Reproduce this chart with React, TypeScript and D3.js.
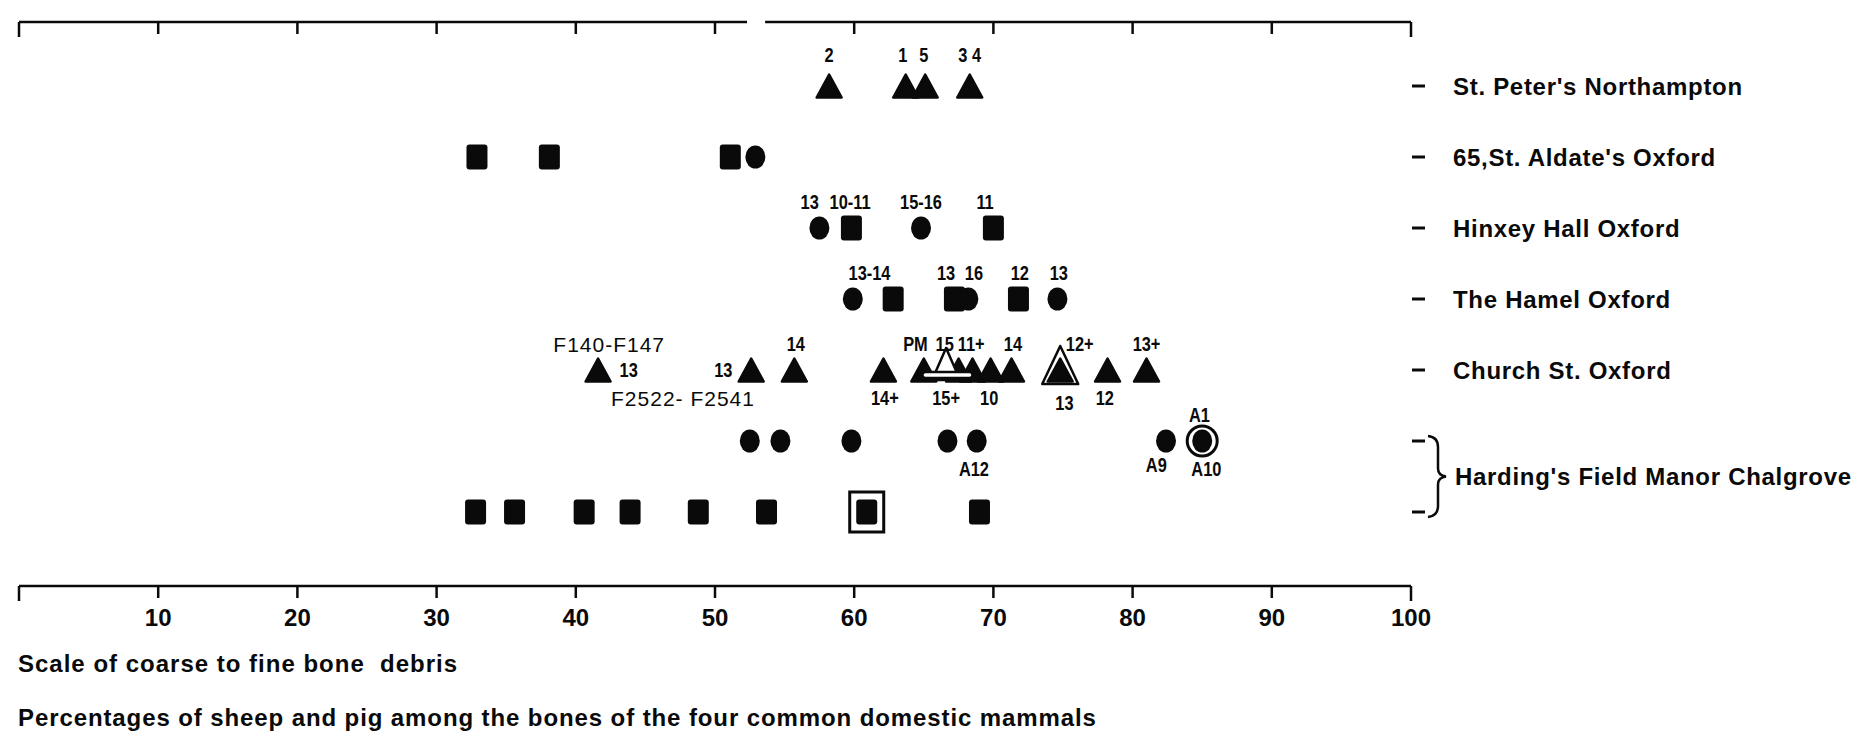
import React from "react";
import * as d3 from "d3";

const W = 1860;
const H = 739;

// axis ticks
const xTickValues = [0, 10, 20, 30, 40, 50, 60, 70, 80, 90, 100];
const xTickLabels = ["", "10", "20", "30", "40", "50", "60", "70", "80", "90", "100"];
const topAxisGap = [52.3, 53.6];

// rows
const rowKeys = ["peter", "aldate", "hinxey", "hamel", "church", "hardingC", "hardingS"];
const siteNames = [
  "St. Peter's Northampton",
  "65,St. Aldate's Oxford",
  "Hinxey Hall Oxford",
  "The Hamel Oxford",
  "Church St. Oxford",
];
const hardingName = "Harding's Field Manor Chalgrove";

// values
const stPeterTriangles = [58.2, 63.7, 65.1, 68.3];
const aldateSquares = [32.9, 38.1, 51.1];
const aldateCircles = [52.9];
const hinxeyCircles = [57.5, 64.8];
const hinxeySquares = [59.8, 70.0];
const hamelCircles = [59.9, 68.2, 74.6];
const hamelSquares = [62.8, 67.2, 71.8];
const churchTriangles = [41.6, 52.6, 55.7, 62.1, 65.0, 67.5, 68.5, 69.8, 71.3, 74.8, 78.2, 81.0];
const churchOpenTriangle = [66.6];
const churchRingedTriangle = [74.8];
const churchGroupSpan = [64.9, 68.5];
const hardingCircles = [52.5, 54.7, 59.8, 66.7, 68.8, 82.4, 85.0];
const hardingRinged = [85.0];
const hardingSquares = [32.8, 35.6, 40.6, 43.9, 48.8, 53.7, 60.9, 69.0];
const hardingBoxed = [60.9];

// labels: [text, value, placement]
type Lab = [string, number, string];
const peterLabels: Lab[] = [["2", 58.2, "above"], ["1", 63.5, "above"], ["5", 65.0, "above"], ["3 4", 68.3, "above"]];
const hinxeyLabels: Lab[] = [["13", 56.8, "above"], ["10-11", 59.7, "above"], ["15-16", 64.8, "above"], ["11", 69.4, "above"]];
const hamelLabels: Lab[] = [["13-14", 61.1, "above"], ["13", 66.6, "above"], ["16", 68.6, "above"], ["12", 71.9, "above"], ["13", 74.7, "above"]];
const churchLabels: Lab[] = [
  ["F140-F147", 42.4, "above"], ["13", 43.8, "mid"], ["F2522- F2541", 47.7, "below"],
  ["13", 50.6, "mid"], ["14", 55.8, "above"], ["14+", 62.2, "below"],
  ["PM", 64.4, "above"], ["15", 66.5, "above"], ["15+", 66.6, "below"],
  ["11+", 68.4, "above"], ["10", 69.7, "below"], ["14", 71.4, "above"],
  ["12+", 76.2, "above"], ["13", 75.1, "below2"], ["12", 78.0, "below"], ["13+", 81.0, "above"],
];
const hardingCircleLabels: Lab[] = [["A1", 84.8, "above"], ["A12", 68.6, "below"], ["A9", 81.7, "belowA9"], ["A10", 85.3, "below"]];

const x = d3.scaleLinear().domain([0, 100]).range([19, 1411]);
const y = d3.scalePoint<string>().domain(rowKeys).range([86, 512]);

const FONT = "'Liberation Sans', Arial, Helvetica, sans-serif";
const INK = "#0a0a0a";

const triPath = (w: number, h: number) => {
  const p = d3.path();
  p.moveTo(0, -h / 2);
  p.lineTo(w / 2, h / 2);
  p.lineTo(-w / 2, h / 2);
  p.closePath();
  return p.toString();
};

function Square({ v, row }: { v: number; row: string }) {
  return <rect x={x(v) - 10.5} y={(y(row) as number) - 12.5} width={21} height={25} rx={3} fill={INK} />;
}
function Circle({ v, row }: { v: number; row: string }) {
  return <ellipse cx={x(v)} cy={y(row) as number} rx={10} ry={11.5} fill={INK} />;
}
function Tri({ v, row }: { v: number; row: string }) {
  return (
    <path
      d={triPath(25, 23)}
      transform={`translate(${x(v)},${y(row)})`}
      fill={INK}
      stroke={INK}
      strokeWidth={2.5}
      strokeLinejoin="round"
    />
  );
}

const dyFor: Record<string, number> = { above: -31, mid: 0, below: 28, below2: 33, belowA9: 24 };

function Labels({ labs, row, dyAbove }: { labs: Lab[]; row: string; dyAbove?: number }) {
  return (
    <g>
      {labs.map(([t, v, pos], i) => {
        const dy = pos === "above" && dyAbove !== undefined ? dyAbove : dyFor[pos];
        const px = x(v);
        const py = (y(row) as number) + dy;
        const isF = t.startsWith("F");
        return isF ? (
          <text key={i} x={px} y={py} textAnchor="middle" dominantBaseline="central"
            fontFamily={FONT} fontSize={21} letterSpacing={1} fill={INK}>{t}</text>
        ) : (
          <text key={i} transform={`translate(${px},${py}) scale(0.78,1)`} textAnchor="middle"
            dominantBaseline="central" fontFamily={FONT} fontSize={21} fontWeight={700} fill={INK}>{t}</text>
        );
      })}
    </g>
  );
}

export default function App() {
  const yTop = 22;
  const yBot = 586;
  const rightDashX = 1412;
  const labelX = 1453;
  const hy1 = y("hardingC") as number;
  const hy2 = y("hardingS") as number;
  const hMid = (hy1 + hy2) / 2;
  const bx = 1438;

  const bracket = d3.path();
  bracket.moveTo(bx - 10, hy1 - 5);
  bracket.quadraticCurveTo(bx, hy1 - 4, bx, hy1 + 6);
  bracket.lineTo(bx, hMid - 8);
  bracket.quadraticCurveTo(bx, hMid - 1, bx + 8, hMid);
  bracket.quadraticCurveTo(bx, hMid + 1, bx, hMid + 8);
  bracket.lineTo(bx, hy2 - 6);
  bracket.quadraticCurveTo(bx, hy2 + 4, bx - 10, hy2 + 5);

  const cy = y("church") as number;

  return (
    <svg width={W} height={H} style={{ position: "absolute", left: 0, top: 0, background: "#fff" }}>
      <rect x={0} y={0} width={W} height={H} fill="#fff" />
      {/* top axis */}
      <g stroke={INK} strokeWidth={2.5} fill="none">
        <line x1={x(0)} x2={x(topAxisGap[0])} y1={yTop} y2={yTop} />
        <line x1={x(topAxisGap[1])} x2={x(100)} y1={yTop} y2={yTop} />
        {xTickValues.map((t) => (
          <line key={t} x1={x(t)} x2={x(t)} y1={yTop} y2={yTop + (t === 0 || t === 100 ? 15 : 12)} />
        ))}
      </g>
      {/* bottom axis */}
      <g stroke={INK} strokeWidth={2.5} fill="none">
        <line x1={x(0)} x2={x(100)} y1={yBot} y2={yBot} />
        {xTickValues.map((t) => (
          <line key={t} x1={x(t)} x2={x(t)} y1={yBot} y2={yBot + (t === 0 || t === 100 ? 15 : 12)} />
        ))}
      </g>
      {xTickValues.map((t, i) => (
        <text key={t} x={x(t)} y={617} textAnchor="middle" dominantBaseline="central"
          fontFamily={FONT} fontSize={24} fontWeight={700} fill={INK}>{xTickLabels[i]}</text>
      ))}
      <text x={18} y={672} fontFamily={FONT} fontSize={24} fontWeight={700} letterSpacing={1} fill={INK}
        style={{ whiteSpace: "pre" }}>{"Scale of coarse to fine bone  debris"}</text>
      <text x={18} y={726} fontFamily={FONT} fontSize={24} fontWeight={700} letterSpacing={0.9} fill={INK}>
        Percentages of sheep and pig among the bones of the four common domestic mammals
      </text>

      {/* right labels */}
      {siteNames.map((n, i) => (
        <g key={n}>
          <line x1={rightDashX} x2={rightDashX + 13} y1={y(rowKeys[i]) as number} y2={y(rowKeys[i]) as number}
            stroke={INK} strokeWidth={3} />
          <text x={labelX} y={y(rowKeys[i]) as number} dominantBaseline="central" fontFamily={FONT}
            fontSize={24} fontWeight={700} letterSpacing={0.7} fill={INK}>{n}</text>
        </g>
      ))}
      <line x1={rightDashX} x2={rightDashX + 13} y1={hy1} y2={hy1} stroke={INK} strokeWidth={3} />
      <line x1={rightDashX} x2={rightDashX + 13} y1={hy2} y2={hy2} stroke={INK} strokeWidth={3} />
      <path d={bracket.toString()} fill="none" stroke={INK} strokeWidth={2.5} />
      <text x={labelX + 2} y={hMid} dominantBaseline="central" fontFamily={FONT}
        fontSize={24} fontWeight={700} letterSpacing={0.7} fill={INK}>{hardingName}</text>

      {/* St Peter's */}
      {stPeterTriangles.map((v, i) => <Tri key={i} v={v} row="peter" />)}
      <Labels labs={peterLabels} row="peter" />

      {/* Aldate's */}
      {aldateSquares.map((v, i) => <Square key={i} v={v} row="aldate" />)}
      {aldateCircles.map((v, i) => <Circle key={i} v={v} row="aldate" />)}

      {/* Hinxey */}
      {hinxeyCircles.map((v, i) => <Circle key={i} v={v} row="hinxey" />)}
      {hinxeySquares.map((v, i) => <Square key={i} v={v} row="hinxey" />)}
      <Labels labs={hinxeyLabels} row="hinxey" dyAbove={-26} />

      {/* Hamel */}
      {hamelSquares.map((v, i) => <Square key={i} v={v} row="hamel" />)}
      {hamelCircles.map((v, i) => <Circle key={i} v={v} row="hamel" />)}
      <Labels labs={hamelLabels} row="hamel" dyAbove={-26} />

      {/* Church St */}
      {churchRingedTriangle.map((v, i) => (
        <path key={"r" + i} d={triPath(36, 38)} transform={`translate(${x(v)},${cy - 5})`}
          fill="#fff" stroke={INK} strokeWidth={2.5} strokeLinejoin="round" />
      ))}
      {churchTriangles.map((v, i) => <Tri key={i} v={v} row="church" />)}
      {churchOpenTriangle.map((v, i) => (
        <path key={"o" + i} d={triPath(28, 32)} transform={`translate(${x(v)},${cy - 6})`}
          fill="#fff" stroke={INK} strokeWidth={2.5} strokeLinejoin="round" />
      ))}
      <rect x={x(churchGroupSpan[0])} y={cy + 2} width={x(churchGroupSpan[1]) - x(churchGroupSpan[0])} height={6}
        rx={3} fill="#fff" stroke={INK} strokeWidth={2.5} />
      <Labels labs={churchLabels} row="church" dyAbove={-26} />

      {/* Harding's circles */}
      {hardingCircles.map((v, i) => <Circle key={i} v={v} row="hardingC" />)}
      {hardingRinged.map((v, i) => (
        <circle key={i} cx={x(v)} cy={hy1} r={15} fill="none" stroke={INK} strokeWidth={3} />
      ))}
      <Labels labs={hardingCircleLabels} row="hardingC" dyAbove={-26} />

      {/* Harding's squares */}
      {hardingSquares.map((v, i) => <Square key={i} v={v} row="hardingS" />)}
      {hardingBoxed.map((v, i) => (
        <rect key={i} x={x(v) - 17} y={hy2 - 20} width={34} height={40} fill="none" stroke={INK} strokeWidth={3} />
      ))}
    </svg>
  );
}
